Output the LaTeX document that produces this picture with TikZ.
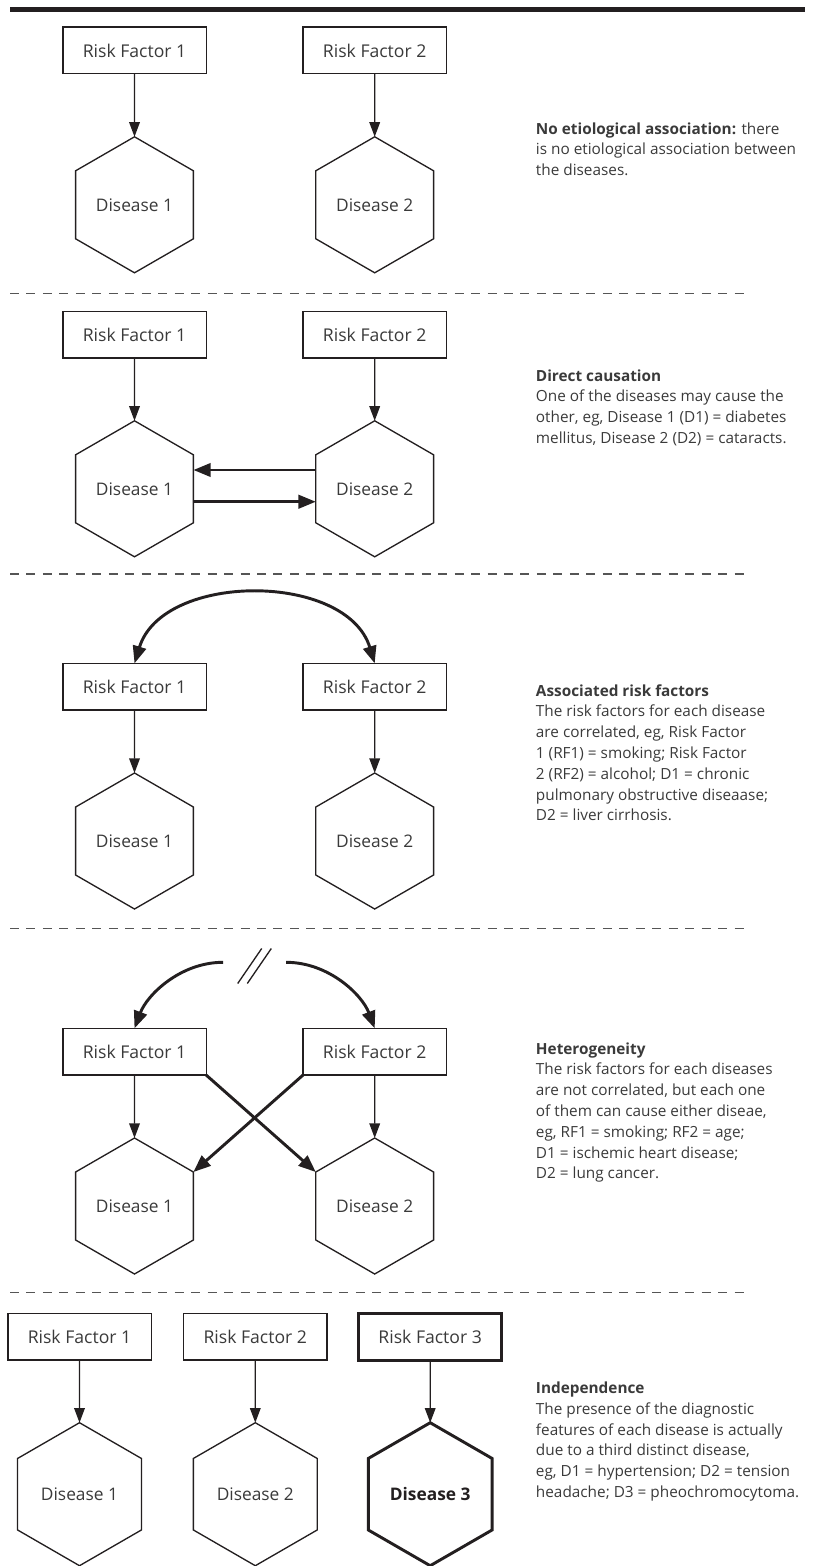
\documentclass[tikz,border=0pt]{standalone}
\usepackage{fontspec}
\setmainfont{Open Sans}
\usetikzlibrary{arrows.meta,shapes.geometric,calc}
\definecolor{ink}{HTML}{231F20}
\definecolor{txtgray}{HTML}{3A3A3A}
\definecolor{dashgray}{HTML}{555555}
\begin{document}
\begin{tikzpicture}[x=0.75pt,y=-0.75pt,
  rf/.style={draw=ink, line width=1pt, rectangle, minimum width=107.5pt, minimum height=35pt,
    inner sep=0pt, outer sep=0pt, text=txtgray, font=\fontsize{13.2}{15}\selectfont},
  rfbold/.style={rf, line width=2.2pt},
  dis/.style={draw=ink, line width=1pt, regular polygon, regular polygon sides=6,
    shape border rotate=30, minimum size=102pt, inner sep=0pt, outer sep=0pt,
    text=txtgray, font=\fontsize{13}{15}\selectfont},
  disbig/.style={dis, minimum size=107.25pt},
  disbold/.style={disbig, line width=2.2pt, text=ink, font=\fontsize{13}{15}\selectfont\bfseries},
  thinarr/.style={draw=ink, line width=1pt, -{Triangle[length=11pt,width=8pt]}},
  thickarr/.style={draw=ink, line width=2.2pt, -{Triangle[length=13pt,width=10pt]}},
  thickboth/.style={draw=ink, line width=2.2pt, {Triangle[length=13pt,width=10pt]}-{Triangle[length=13pt,width=10pt]}},
  sepline/.style={draw=dashgray, line width=1.1pt, dash pattern=on 6.75pt off 5.6pt},
  captxt/.style={anchor=base west, align=left, inner sep=0pt, text=txtgray,
    font=\fontsize{11.5}{15.6}\selectfont},
]
\useasboundingbox (0,0) rectangle (813,1566);

% top rule
\draw[ink, line width=3.4pt] (10,9.5) -- (805,9.5);

% ---------- Section 1 ----------
\node[rf] (a1) at (134.5,50.5) {Risk Factor 1};
\node[rf] (b1) at (374.7,50.5) {Risk Factor 2};
\node[dis] (c1) at (134.5,204.8) {Disease 1};
\node[dis] (d1) at (374.7,204.8) {Disease 2};
\draw[thinarr] (a1) -- (c1);
\draw[thinarr] (b1) -- (d1);
% anchor = baseline of the last line
\node[captxt] (t1) at (535.7,175.6) {\textbf{No etiological association:} there\\is no etiological association between\\the diseases.};
\draw[sepline] (10,293.3) -- (746,293.3);

% ---------- Section 2 ----------
\node[rf] (a2) at (134.5,334.5) {Risk Factor 1};
\node[rf] (b2) at (374.7,334.5) {Risk Factor 2};
\node[dis] (c2) at (134.5,488.8) {Disease 1};
\node[dis] (d2) at (374.7,488.8) {Disease 2};
\draw[thinarr] (a2) -- (c2);
\draw[thinarr] (b2) -- (d2);
\draw[thickarr] ([yshift=14.1pt]d2.west) -- ([yshift=14.1pt]c2.east);
\draw[thickarr] ([yshift=-9.7pt]c2.east) -- ([yshift=-9.7pt]d2.west);
\node[captxt] (t2) at (535.7,443.4) {\textbf{Direct causation}\\One of the diseases may cause the\\other, eg, Disease 1 (D1) = diabetes\\mellitus, Disease 2 (D2) = cataracts.};
\draw[sepline] (10,574) -- (746,574);

% ---------- Section 3 ----------
\node[rf] (a3) at (134.5,686.7) {Risk Factor 1};
\node[rf] (b3) at (374.7,686.7) {Risk Factor 2};
\node[dis] (c3) at (134.5,841) {Disease 1};
\node[dis] (d3) at (374.7,841) {Disease 2};
\draw[thinarr] (a3) -- (c3);
\draw[thinarr] (b3) -- (d3);
\draw[thickboth] (a3.north) .. controls +(28,-91.5) and +(-28,-91.5) .. (b3.north);
\node[captxt] (t3) at (535.7,820.8) {\textbf{Associated risk factors}\\The risk factors for each disease\\are correlated, eg, Risk Factor\\1 (RF1) = smoking; Risk Factor\\2 (RF2) = alcohol; D1 = chronic\\pulmonary obstructive diseaase;\\D2 = liver cirrhosis.};
\draw[sepline] (10,928.3) -- (746,928.3);

% ---------- Section 4 ----------
\node[rf] (a4) at (134.5,1051.7) {Risk Factor 1};
\node[rf] (b4) at (374.7,1051.7) {Risk Factor 2};
\node[dis] (c4) at (134.5,1206) {Disease 1};
\node[dis] (d4) at (374.7,1206) {Disease 2};
\draw[thinarr] (a4) -- (c4);
\draw[thinarr] (b4) -- (d4);
\coordinate (g1) at (223.1,962.3);
\coordinate (g2) at (286.1,962.3);
\coordinate (brk) at (254.5,966);
\draw[thickarr] (g1) .. controls +(-43,0) and +(12.5,-33.3) .. (a4.north);
\draw[thickarr] (g2) .. controls +(43,0) and +(-12.5,-33.3) .. (b4.north);
\draw[ink, line width=1pt] ([shift={(-4.8,0)}]brk) +(-12,17.5) -- +(12,-17.5);
\draw[ink, line width=1pt] ([shift={(4.8,0)}]brk) +(-12,17.5) -- +(12,-17.5);
\draw[thickarr] (a4.south east) -- (d4.150);
\draw[thickarr] (b4.south west) -- (c4.30);
\node[captxt] (t4) at (535.7,1178.8) {\textbf{Heterogeneity}\\The risk factors for each diseases\\are not correlated, but each one\\of them can cause either diseae,\\eg, RF1 = smoking; RF2 = age;\\D1 = ischemic heart disease;\\D2 = lung cancer.};
\draw[sepline] (10,1292.3) -- (746,1292.3);

% ---------- Section 5 ----------
\node[rf] (a5) at (79.5,1336.7) {Risk Factor 1};
\node[rf] (b5) at (255.3,1336.7) {Risk Factor 2};
\node[rfbold] (e5) at (430.2,1336.7) {Risk Factor 3};
\node[disbig] (c5) at (79.5,1494.2) {Disease 1};
\node[disbig] (d5) at (255.3,1494.2) {Disease 2};
\node[disbold] (f5) at (430.2,1494.2) {Disease 3};
\draw[thinarr] (a5) -- (c5);
\draw[thinarr] (b5) -- (d5);
\draw[thinarr] (e5) -- (f5);
\node[captxt] (t5) at (535.7,1497.5) {\textbf{Independence}\\The presence of the diagnostic\\features of each disease is actually\\due to a third distinct disease,\\eg, D1 = hypertension; D2 = tension\\headache; D3 = pheochromocytoma.};
\end{tikzpicture}
\end{document}
